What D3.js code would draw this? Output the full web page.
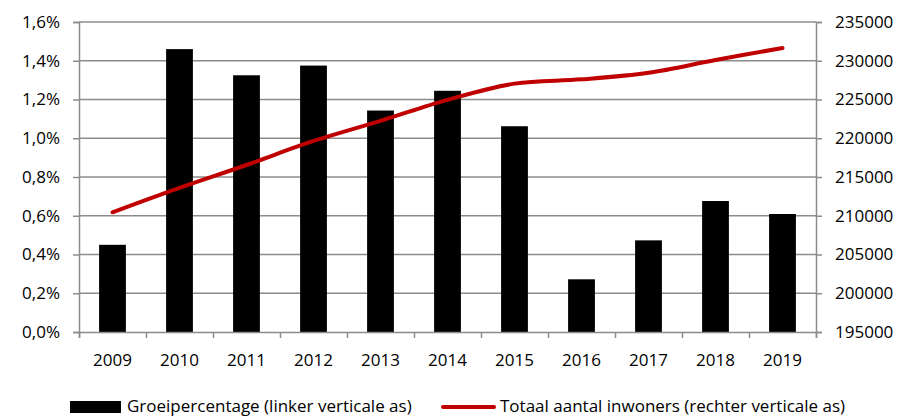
<!DOCTYPE html>
<html>
<head>
<meta charset="utf-8">
<script src="https://cdn.jsdelivr.net/npm/d3@7"></script>
<style>
  body { margin: 0; background: #fff; }
  text { font-family: "Open Sans", sans-serif; fill: #000; }
</style>
</head>
<body>
<svg id="chart" width="897" height="417"></svg>
<script>
// data
var years = ['2009','2010','2011','2012','2013','2014','2015','2016','2017','2018','2019'];
var growth = [0.45, 1.46, 1.325, 1.375, 1.143, 1.245, 1.062, 0.272, 0.473, 0.676, 0.609];
var inhabitants = [210450, 213600, 216550, 219650, 222250, 224950, 227050, 227600, 228450, 230100, 231650];
var leftTicks = [0, 0.2, 0.4, 0.6, 0.8, 1.0, 1.2, 1.4, 1.6];
var rightTicks = [195000, 200000, 205000, 210000, 215000, 220000, 225000, 230000, 235000];

var svg = d3.select('#chart'),
    pLeft = 79, pRight = 816, pTop = 22, pBottom = 332,
    fs = '17px';

var x = d3.scaleBand().domain(years).range([pLeft, pRight]).paddingInner(0.6).paddingOuter(0.3);
var yL = d3.scaleLinear().domain([0, 1.6]).range([pBottom, pTop]);
var yR = d3.scaleLinear().domain([195000, 235000]).range([pBottom, pTop]);

// gridlines
svg.append('g').selectAll('line')
  .data(leftTicks.slice(1))
  .enter().append('line')
    .attr('x1', pLeft).attr('x2', pRight)
    .attr('y1', function(d){ return yL(d); })
    .attr('y2', function(d){ return yL(d); })
    .attr('stroke', '#8c8c8c').attr('stroke-width', 1.5);

// bars
svg.append('g').selectAll('rect')
  .data(growth)
  .enter().append('rect')
    .attr('x', function(d, i){ return x(years[i]); })
    .attr('width', x.bandwidth())
    .attr('y', function(d){ return yL(d); })
    .attr('height', function(d){ return pBottom - yL(d); })
    .attr('fill', '#000');

// axes
var fmt = function(d){ return d3.format('.1f')(d).replace('.', ',') + '%'; };
var gL = svg.append('g').attr('transform', 'translate(' + pLeft + ',0)')
  .call(d3.axisLeft(yL).tickValues(leftTicks).tickFormat(fmt).tickSize(6).tickPadding(13));
var gR = svg.append('g').attr('transform', 'translate(' + pRight + ',0)')
  .call(d3.axisRight(yR).tickValues(rightTicks).tickFormat(d3.format('d')).tickSize(6).tickPadding(13));

var xb = d3.scaleLinear().domain([0, years.length]).range([pLeft, pRight]);
var gB = svg.append('g').attr('transform', 'translate(0,' + pBottom + ')')
  .call(d3.axisBottom(xb).ticks(years.length).tickFormat('').tickSize(6));
svg.append('g').selectAll('text')
  .data(years)
  .enter().append('text')
    .attr('x', function(d){ return x(d) + x.bandwidth() / 2; })
    .attr('y', 366)
    .attr('text-anchor', 'middle')
    .style('font-size', fs)
    .text(function(d){ return d; });

[gL, gR, gB].forEach(function(g){
  g.select('.domain').attr('stroke', '#8c8c8c').attr('stroke-width', 1.5);
  g.selectAll('.tick line').attr('stroke', '#8c8c8c').attr('stroke-width', 1.5);
  g.selectAll('.tick text').style('font-size', fs).attr('fill', '#000').style('font-family', '"Open Sans", sans-serif');
});

// population line
var line = d3.line()
  .x(function(d, i){ return x(years[i]) + x.bandwidth() / 2; })
  .y(function(d){ return yR(d); })
  .curve(d3.curveCatmullRom.alpha(0.5));

svg.append('path')
  .datum(inhabitants)
  .attr('d', line)
  .attr('fill', 'none')
  .attr('stroke', '#c00000')
  .attr('stroke-width', 4)
  .attr('stroke-linecap', 'round');

// legend
var lg = svg.append('g');
lg.append('rect').attr('x', 70).attr('y', 401).attr('width', 51).attr('height', 12).attr('fill', '#000');
lg.append('text').attr('x', 127).attr('y', 412).style('font-size', fs)
  .text('Groeipercentage (linker verticale as)');
lg.append('line').attr('x1', 443).attr('x2', 494).attr('y1', 407).attr('y2', 407)
  .attr('stroke', '#c00000').attr('stroke-width', 4).attr('stroke-linecap', 'round');
lg.append('text').attr('x', 500).attr('y', 412).style('font-size', fs)
  .text('Totaal aantal inwoners (rechter verticale as)');

console.log('chart drawn');
</script>
</body>
</html>
